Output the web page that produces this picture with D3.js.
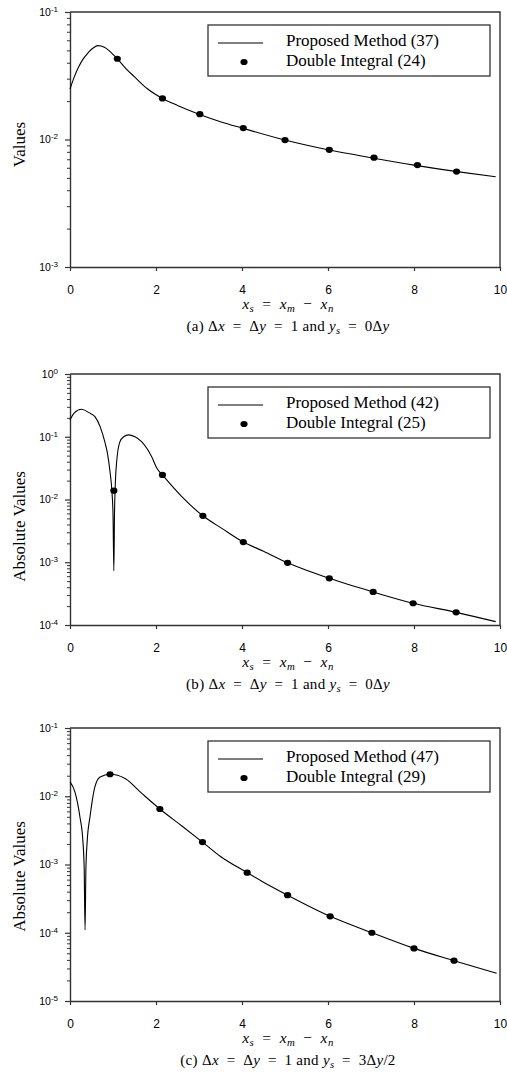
<!DOCTYPE html>
<html>
<head>
<meta charset="utf-8">
<script src="https://cdn.jsdelivr.net/npm/d3@7"></script>
<style>
  body { margin: 0; background: #fff; }
</style>
</head>
<body>
<svg id="chart" width="507" height="1072"></svg>
<script>
// x axis ticks (shared by all three panels)
var xTickValues = [0, 2, 4, 6, 8, 10];

// panel (a)
var curveAX = [0, 0.1, 0.2, 0.3, 0.4, 0.5, 0.65, 0.8, 0.9, 1.1, 1.3, 1.5, 1.8, 2.15, 2.5, 3.0, 3.5, 4.0, 5.0, 6.0, 7.0, 8.0, 9.0, 9.9];
var curveAY = [0.0249, 0.031, 0.037, 0.0425, 0.047, 0.051, 0.0545, 0.053, 0.050, 0.043, 0.036, 0.031, 0.025, 0.021, 0.0185, 0.0158, 0.0138, 0.0123, 0.0099, 0.0083, 0.0072, 0.0063, 0.0056, 0.0051];
var dotsAX = [1.1, 2.15, 3.02, 4.03, 5.0, 6.03, 7.07, 8.08, 8.99];
var dotsAY = [0.043, 0.021, 0.0158, 0.0123, 0.0099, 0.0083, 0.0072, 0.0063, 0.0056];

// panel (b)
var curveBX = [0, 0.1, 0.27, 0.45, 0.58, 0.7, 0.81, 0.87, 0.93, 0.97, 1.0, 1.02, 1.035, 1.05, 1.085, 1.16, 1.25, 1.36, 1.5, 1.67, 1.9, 2.02, 2.15, 2.6, 3.09, 3.53, 4.03, 4.5, 5.06, 6.03, 7.05, 7.98, 8.98, 9.9];
var curveBY = [0.185, 0.24, 0.274, 0.24, 0.209, 0.145, 0.083, 0.055, 0.028, 0.015, 0.006, 0.00073, 0.006, 0.015, 0.04, 0.083, 0.1, 0.107, 0.101, 0.083, 0.048, 0.0315, 0.0246, 0.0111, 0.0055, 0.00347, 0.0021, 0.00150, 0.00098, 0.000555, 0.000336, 0.000222, 0.000159, 0.000113];
var dotsBX = [1.02, 2.15, 3.09, 4.03, 5.06, 6.03, 7.05, 7.98, 8.98];
var dotsBY = [0.0138, 0.0246, 0.0055, 0.0021, 0.00098, 0.000555, 0.000336, 0.000222, 0.000159];

// panel (c)
var curveCX = [0, 0.116, 0.23, 0.3, 0.33, 0.35, 0.37, 0.4, 0.465, 0.52, 0.58, 0.7, 0.93, 1.28, 1.67, 2.09, 2.6, 3.08, 3.5, 4.12, 4.5, 5.06, 6.05, 7.02, 8.0, 8.93, 9.92];
var curveCY = [0.0162, 0.0115, 0.005, 0.0022, 0.00087, 0.00011, 0.00087, 0.0022, 0.005, 0.0088, 0.0138, 0.0192, 0.021, 0.0182, 0.011, 0.0065, 0.00367, 0.00213, 0.00131, 0.00076, 0.00055, 0.000355, 0.000174, 0.0001, 0.000059, 0.000039, 0.0000255];
var dotsCX = [0.93, 2.09, 3.08, 4.12, 5.06, 6.05, 7.02, 8.0, 8.93];
var dotsCY = [0.021, 0.0065, 0.00213, 0.00076, 0.000355, 0.000174, 0.0001, 0.000059, 0.000039];

// texts
var yTitles = ["Values", "Absolute Values", "Absolute Values"];
var lineLabels = ["Proposed Method (37)", "Proposed Method (42)", "Proposed Method (47)"];
var dotLabels = ["Double Integral (24)", "Double Integral (25)", "Double Integral (29)"];
var yDomains = [[1e-3, 1e-1], [1e-4, 1], [1e-5, 1e-1]];

// caption pieces: [text, style]  r = roman, i = italic, s = italic subscript
var sp = "\u2002";
var xTitleParts = [["x", "i"], ["s", "s"], [sp + "=" + sp, "r"], ["x", "i"], ["m", "s"], [sp + "\u2212" + sp, "r"], ["x", "i"], ["n", "s"]];
var captionParts = [
  [["(a) \u0394", "r"], ["x", "i"], [sp + "=" + sp + "\u0394", "r"], ["y", "i"], [sp + "=" + sp + "1 and ", "r"], ["y", "i"], ["s", "s"], [sp + "=" + sp + "0\u0394", "r"], ["y", "i"]],
  [["(b) \u0394", "r"], ["x", "i"], [sp + "=" + sp + "\u0394", "r"], ["y", "i"], [sp + "=" + sp + "1 and ", "r"], ["y", "i"], ["s", "s"], [sp + "=" + sp + "0\u0394", "r"], ["y", "i"]],
  [["(c) \u0394", "r"], ["x", "i"], [sp + "=" + sp + "\u0394", "r"], ["y", "i"], [sp + "=" + sp + "1 and ", "r"], ["y", "i"], ["s", "s"], [sp + "=" + sp + "3\u0394", "r"], ["y", "i"], ["/2", "r"]]
];

var panels = [
  { top: 12, bottom: 267, curveX: curveAX, curveY: curveAY, dotsX: dotsAX, dotsY: dotsAY, yOff: 5 },
  { top: 374, bottom: 625, curveX: curveBX, curveY: curveBY, dotsX: dotsBX, dotsY: dotsBY, yOff: 27 },
  { top: 728, bottom: 1001, curveX: curveCX, curveY: curveCY, dotsX: dotsCX, dotsY: dotsCY, yOff: 12 }
];

var svg = d3.select("#chart");
var left = 70, right = 500;
var frameColor = "#333";
var serif = "'Liberation Serif', 'Times New Roman', serif";
var sans = "'Liberation Sans', Arial, sans-serif";

function mathText(sel, parts, size)
{
    var shift = 0;
    parts.forEach(function(p) {
        var t = sel.append("tspan").text(p[0]);
        var target = p[1] === "s" ? 3 : 0;
        if (target !== shift) { t.attr("dy", target - shift); shift = target; }
        if (p[1] === "i" || p[1] === "s") t.attr("font-style", "italic");
        if (p[1] === "s") t.attr("font-size", size * 0.7);
    });
}

panels.forEach(function(p, i)
{
    var x = d3.scaleLinear().domain([0, 10]).range([left, right]);
    var y = d3.scaleLog().domain(yDomains[i]).range([p.bottom, p.top]);
    var g = svg.append("g");

    var majors = y.ticks().filter(function(v) { return Math.abs(Math.log10(v) - Math.round(Math.log10(v))) < 1e-9; });
    var minors = y.ticks().filter(function(v) { return majors.indexOf(v) < 0; });

    // minor y ticks
    g.append("g")
     .attr("transform", "translate(" + left + ",0)")
     .call(d3.axisLeft(y).tickValues(minors).tickSize(3).tickSizeOuter(0).tickFormat(""))
     .call(function(a) { a.select(".domain").remove(); a.selectAll("line").attr("stroke", frameColor); });

    // major y ticks with 10^n labels
    var yAxis = g.append("g")
     .attr("transform", "translate(" + left + ",0)")
     .call(d3.axisLeft(y).tickValues(majors).tickSize(5).tickSizeOuter(0).tickPadding(7));
    yAxis.attr("font-family", sans);
    yAxis.select(".domain").attr("stroke", frameColor).attr("stroke-width", 1.4);
    yAxis.selectAll("line").attr("stroke", frameColor).attr("stroke-width", 1.2);
    yAxis.selectAll(".tick text").each(function(d) {
        var t = d3.select(this).text(null).attr("font-size", 10.5).attr("dy", "0.32em");
        t.append("tspan").text("10");
        t.append("tspan").attr("dy", -4).attr("font-size", 8).text(Math.round(Math.log10(d)));
    });

    // x axis
    var xAxis = g.append("g")
     .attr("transform", "translate(0," + p.bottom + ")")
     .call(d3.axisBottom(x).tickValues(xTickValues).tickSize(4).tickSizeOuter(0).tickPadding(14));
    xAxis.attr("font-family", sans);
    xAxis.select(".domain").attr("stroke", frameColor).attr("stroke-width", 1.4);
    xAxis.selectAll("line").attr("stroke", frameColor).attr("stroke-width", 1.2);
    xAxis.selectAll(".tick text").attr("font-size", 12);

    // top and right frame
    g.append("path")
     .attr("d", "M" + left + "," + p.top + "H" + right + "V" + p.bottom)
     .attr("fill", "none")
     .attr("stroke", frameColor)
     .attr("stroke-width", 1.4);

    // proposed method curve
    var pts = p.curveX.map(function(v, k) { return [v, p.curveY[k]]; });
    var line = d3.line()
        .x(function(d) { return x(d[0]); })
        .y(function(d) { return y(d[1]); })
        .curve(d3.curveMonotoneX);
    g.append("path")
     .datum(pts)
     .attr("d", line)
     .attr("fill", "none")
     .attr("stroke", "#000")
     .attr("stroke-width", 1.1);

    // double integral dots
    g.selectAll(".dot")
     .data(p.dotsX.map(function(v, k) { return [v, p.dotsY[k]]; }))
     .enter().append("ellipse")
     .attr("cx", function(d) { return x(d[0]); })
     .attr("cy", function(d) { return y(d[1]); })
     .attr("rx", 3.6)
     .attr("ry", 3.1)
     .attr("fill", "#000");

    // legend
    var lg = g.append("g").attr("transform", "translate(208," + (p.top + 13) + ")");
    lg.append("rect")
      .attr("width", 282).attr("height", 51)
      .attr("fill", "#fff").attr("stroke", frameColor).attr("stroke-width", 1.3);
    lg.append("line").attr("x1", 10).attr("x2", 55).attr("y1", 18).attr("y2", 18)
      .attr("stroke", "#000").attr("stroke-width", 1.1);
    lg.append("ellipse").attr("cx", 36).attr("cy", 37).attr("rx", 3.6).attr("ry", 3.1).attr("fill", "#000");
    lg.append("text").attr("font-family", serif).attr("x", 78).attr("y", 21).attr("font-size", 17).text(lineLabels[i]);
    lg.append("text").attr("font-family", serif).attr("x", 78).attr("y", 41).attr("font-size", 17).text(dotLabels[i]);

    // y title
    svg.append("text")
       .attr("font-family", serif)
       .attr("transform", "translate(25," + ((p.top + p.bottom) / 2 + p.yOff) + ") rotate(-90)")
       .attr("text-anchor", "middle")
       .attr("font-size", 17)
       .text(yTitles[i]);

    // x title and caption
    var xt = svg.append("text").attr("font-family", serif)
       .attr("x", 288).attr("y", p.bottom + 42)
       .attr("text-anchor", "middle").attr("font-size", 15.5).attr("letter-spacing", 0.4);
    mathText(xt, xTitleParts, 15.5);
    var cap = svg.append("text").attr("font-family", serif)
       .attr("x", 288).attr("y", p.bottom + 64)
       .attr("text-anchor", "middle").attr("font-size", 15).attr("letter-spacing", 0.3);
    mathText(cap, captionParts[i], 15);
});
</script>
</body>
</html>
